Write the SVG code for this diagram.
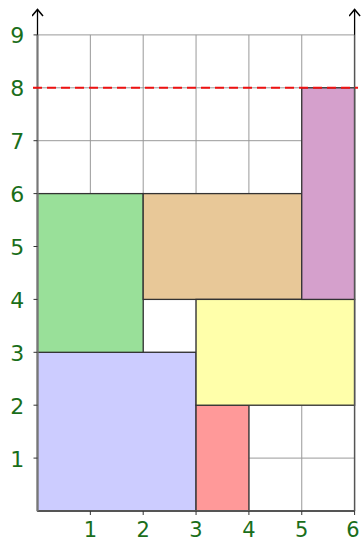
<svg xmlns="http://www.w3.org/2000/svg" width="361" height="542" viewBox="0 0 361 542">
<style>
.grid{stroke:#999;stroke-width:1;fill:none}
.r{stroke:#333;stroke-width:1.3}
.lbl{font-family:"DejaVu Sans","Liberation Sans",sans-serif;font-size:22px;fill:#1a6e1a;text-anchor:middle}
.xl{font-size:21px}
.tick{stroke:#333;stroke-width:1}
.ax{stroke:#000;stroke-width:1.3;fill:none}
</style>
<defs>
<marker id="arr" viewBox="0 0 12 12" refX="10" refY="6" markerWidth="12" markerHeight="12" orient="auto" markerUnits="userSpaceOnUse">
<path d="M3.5,0.5 L10,6 L3.5,11.5" fill="none" stroke="#000" stroke-width="1.5"/>
</marker>
</defs>
<rect width="361" height="542" fill="#fff"/>
<g id="grid">
<path class="grid" d="M37.5,34.9H354.6M37.5,87.8H354.6M37.5,140.7H354.6M37.5,193.6H354.6M37.5,246.5H354.6M37.5,299.4H354.6M37.5,352.3H354.6M37.5,405.2H354.6M37.5,458.1H354.6M90.35,34.9V511M143.2,34.9V511M196.05,34.9V511M248.9,34.9V511M301.75,34.9V511"/>
</g>
<g id="blue"><rect class="r" x="37.5" y="352.3" width="158.55" height="158.7" fill="#ccccff"/></g>
<g id="red"><rect class="r" x="196.05" y="405.2" width="52.85" height="105.8" fill="#ff9999"/></g>
<g id="green"><rect class="r" x="37.5" y="193.6" width="105.7" height="158.7" fill="#99e099"/></g>
<g id="tan"><rect class="r" x="143.2" y="193.6" width="158.55" height="105.8" fill="#e8c898"/></g>
<g id="yellow"><rect class="r" x="196.05" y="299.4" width="158.55" height="105.8" fill="#ffffaa"/></g>
<g id="purple"><rect class="r" x="301.75" y="87.8" width="52.85" height="211.6" fill="#d5a0cc"/></g>
<g id="axes">
<line x1="37.5" y1="511" x2="354.6" y2="511" stroke="#555" stroke-width="2"/>
<line x1="37.5" y1="511" x2="37.5" y2="34.9" stroke="#777" stroke-width="2.2"/>
<line x1="354.6" y1="511" x2="354.6" y2="34.9" stroke="#555" stroke-width="1.5"/>
<line class="ax" x1="37.5" y1="34.9" x2="37.5" y2="9.5" marker-end="url(#arr)"/>
<line class="ax" x1="354.6" y1="34.9" x2="354.6" y2="9.5" marker-end="url(#arr)"/>
<path class="tick" d="M33.5,34.9H37.5M33.5,87.8H37.5M33.5,140.7H37.5M33.5,193.6H37.5M33.5,246.5H37.5M33.5,299.4H37.5M33.5,352.3H37.5M33.5,405.2H37.5M33.5,458.1H37.5M90.35,511V515M143.2,511V515M196.05,511V515M248.9,511V515M301.75,511V515M354.6,511V515"/>
<line x1="33" y1="87.8" x2="358" y2="87.8" stroke="#ee1111" stroke-width="2" stroke-dasharray="9,5"/>
</g>
<g id="labels">
<text class="lbl" x="17.3" y="43">9</text>
<text class="lbl" x="17.3" y="96">8</text>
<text class="lbl" x="17.3" y="149">7</text>
<text class="lbl" x="17.3" y="202">6</text>
<text class="lbl" x="17.3" y="255">5</text>
<text class="lbl" x="17.3" y="308">4</text>
<text class="lbl" x="17.3" y="360.5">3</text>
<text class="lbl" x="17.3" y="413.5">2</text>
<text class="lbl" x="17.3" y="466.5">1</text>
<text class="lbl xl" x="90.35" y="537">1</text>
<text class="lbl xl" x="143.2" y="537">2</text>
<text class="lbl xl" x="196.05" y="537">3</text>
<text class="lbl xl" x="248.9" y="537">4</text>
<text class="lbl xl" x="301.75" y="537">5</text>
<text class="lbl xl" x="353" y="537">6</text>
</g>
</svg>
